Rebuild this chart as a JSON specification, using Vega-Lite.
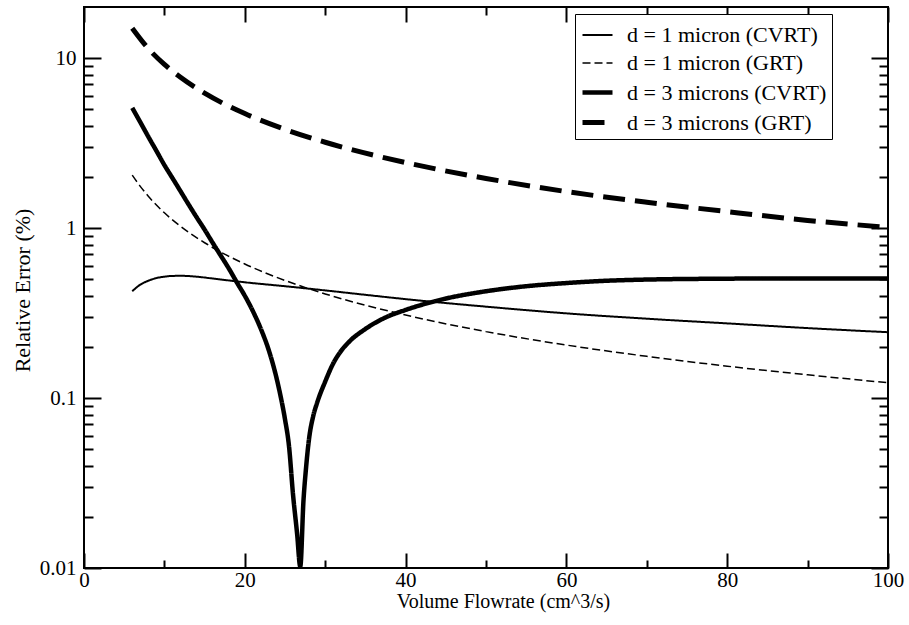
{
  "$schema": "https://vega.github.io/schema/vega-lite/v6.json",
  "width": 804,
  "height": 561,
  "autosize": {"type": "none"},
  "padding": {"left": 84, "top": 7, "right": 21, "bottom": 57},
  "config": {
    "font": "Liberation Serif",
    "view": {"stroke": "black", "strokeWidth": 2},
    "axis": {"grid": false, "domain": false, "tickColor": "black", "tickWidth": 2, "labelColor": "black", "titleColor": "black", "labelFont": "Liberation Serif", "titleFont": "Liberation Serif", "titleFontWeight": "normal"},
    "legend": {"labelFont": "Liberation Serif"}
  },
  "data": {"values": [
    {"x": 6, "y": 15, "s": "d = 3 microns (GRT)"},
    {"x": 8, "y": 11.38, "s": "d = 3 microns (GRT)"},
    {"x": 10, "y": 9.19, "s": "d = 3 microns (GRT)"},
    {"x": 12, "y": 7.71, "s": "d = 3 microns (GRT)"},
    {"x": 15, "y": 6.22, "s": "d = 3 microns (GRT)"},
    {"x": 20, "y": 4.72, "s": "d = 3 microns (GRT)"},
    {"x": 25, "y": 3.81, "s": "d = 3 microns (GRT)"},
    {"x": 30, "y": 3.2, "s": "d = 3 microns (GRT)"},
    {"x": 40, "y": 2.43, "s": "d = 3 microns (GRT)"},
    {"x": 50, "y": 1.96, "s": "d = 3 microns (GRT)"},
    {"x": 60, "y": 1.64, "s": "d = 3 microns (GRT)"},
    {"x": 70, "y": 1.42, "s": "d = 3 microns (GRT)"},
    {"x": 80, "y": 1.25, "s": "d = 3 microns (GRT)"},
    {"x": 90, "y": 1.11, "s": "d = 3 microns (GRT)"},
    {"x": 100, "y": 1.01, "s": "d = 3 microns (GRT)"},

    {"x": 6, "y": 2.05, "s": "d = 1 micron (GRT)"},
    {"x": 7, "y": 1.76, "s": "d = 1 micron (GRT)"},
    {"x": 8, "y": 1.54, "s": "d = 1 micron (GRT)"},
    {"x": 10, "y": 1.23, "s": "d = 1 micron (GRT)"},
    {"x": 12, "y": 1.025, "s": "d = 1 micron (GRT)"},
    {"x": 15, "y": 0.82, "s": "d = 1 micron (GRT)"},
    {"x": 20, "y": 0.615, "s": "d = 1 micron (GRT)"},
    {"x": 25, "y": 0.492, "s": "d = 1 micron (GRT)"},
    {"x": 30, "y": 0.41, "s": "d = 1 micron (GRT)"},
    {"x": 40, "y": 0.308, "s": "d = 1 micron (GRT)"},
    {"x": 50, "y": 0.246, "s": "d = 1 micron (GRT)"},
    {"x": 60, "y": 0.205, "s": "d = 1 micron (GRT)"},
    {"x": 70, "y": 0.176, "s": "d = 1 micron (GRT)"},
    {"x": 80, "y": 0.154, "s": "d = 1 micron (GRT)"},
    {"x": 90, "y": 0.137, "s": "d = 1 micron (GRT)"},
    {"x": 100, "y": 0.123, "s": "d = 1 micron (GRT)"},

    {"x": 6, "y": 0.425, "s": "d = 1 micron (CVRT)"},
    {"x": 7, "y": 0.465, "s": "d = 1 micron (CVRT)"},
    {"x": 8, "y": 0.49, "s": "d = 1 micron (CVRT)"},
    {"x": 9, "y": 0.508, "s": "d = 1 micron (CVRT)"},
    {"x": 10, "y": 0.518, "s": "d = 1 micron (CVRT)"},
    {"x": 11, "y": 0.523, "s": "d = 1 micron (CVRT)"},
    {"x": 12, "y": 0.524, "s": "d = 1 micron (CVRT)"},
    {"x": 14, "y": 0.518, "s": "d = 1 micron (CVRT)"},
    {"x": 16, "y": 0.505, "s": "d = 1 micron (CVRT)"},
    {"x": 20, "y": 0.48, "s": "d = 1 micron (CVRT)"},
    {"x": 25, "y": 0.455, "s": "d = 1 micron (CVRT)"},
    {"x": 30, "y": 0.43, "s": "d = 1 micron (CVRT)"},
    {"x": 35, "y": 0.405, "s": "d = 1 micron (CVRT)"},
    {"x": 40, "y": 0.382, "s": "d = 1 micron (CVRT)"},
    {"x": 50, "y": 0.345, "s": "d = 1 micron (CVRT)"},
    {"x": 60, "y": 0.315, "s": "d = 1 micron (CVRT)"},
    {"x": 70, "y": 0.293, "s": "d = 1 micron (CVRT)"},
    {"x": 80, "y": 0.275, "s": "d = 1 micron (CVRT)"},
    {"x": 90, "y": 0.258, "s": "d = 1 micron (CVRT)"},
    {"x": 100, "y": 0.244, "s": "d = 1 micron (CVRT)"},

    {"x": 6, "y": 5.1, "s": "d = 3 microns (CVRT)"},
    {"x": 7, "y": 4.2, "s": "d = 3 microns (CVRT)"},
    {"x": 8, "y": 3.45, "s": "d = 3 microns (CVRT)"},
    {"x": 9, "y": 2.85, "s": "d = 3 microns (CVRT)"},
    {"x": 10, "y": 2.35, "s": "d = 3 microns (CVRT)"},
    {"x": 11, "y": 1.97, "s": "d = 3 microns (CVRT)"},
    {"x": 12, "y": 1.65, "s": "d = 3 microns (CVRT)"},
    {"x": 13, "y": 1.38, "s": "d = 3 microns (CVRT)"},
    {"x": 14, "y": 1.16, "s": "d = 3 microns (CVRT)"},
    {"x": 15, "y": 0.98, "s": "d = 3 microns (CVRT)"},
    {"x": 16, "y": 0.82, "s": "d = 3 microns (CVRT)"},
    {"x": 17, "y": 0.69, "s": "d = 3 microns (CVRT)"},
    {"x": 18, "y": 0.58, "s": "d = 3 microns (CVRT)"},
    {"x": 19, "y": 0.48, "s": "d = 3 microns (CVRT)"},
    {"x": 20, "y": 0.4, "s": "d = 3 microns (CVRT)"},
    {"x": 21, "y": 0.325, "s": "d = 3 microns (CVRT)"},
    {"x": 22, "y": 0.255, "s": "d = 3 microns (CVRT)"},
    {"x": 23, "y": 0.19, "s": "d = 3 microns (CVRT)"},
    {"x": 24, "y": 0.128, "s": "d = 3 microns (CVRT)"},
    {"x": 24.5, "y": 0.1, "s": "d = 3 microns (CVRT)"},
    {"x": 25, "y": 0.075, "s": "d = 3 microns (CVRT)"},
    {"x": 25.5, "y": 0.052, "s": "d = 3 microns (CVRT)"},
    {"x": 26, "y": 0.027, "s": "d = 3 microns (CVRT)"},
    {"x": 26.5, "y": 0.016, "s": "d = 3 microns (CVRT)"},
    {"x": 26.9, "y": 0.0102, "s": "d = 3 microns (CVRT)"},
    {"x": 27.3, "y": 0.025, "s": "d = 3 microns (CVRT)"},
    {"x": 27.6, "y": 0.038, "s": "d = 3 microns (CVRT)"},
    {"x": 28, "y": 0.058, "s": "d = 3 microns (CVRT)"},
    {"x": 28.5, "y": 0.078, "s": "d = 3 microns (CVRT)"},
    {"x": 29, "y": 0.094, "s": "d = 3 microns (CVRT)"},
    {"x": 30, "y": 0.125, "s": "d = 3 microns (CVRT)"},
    {"x": 31, "y": 0.16, "s": "d = 3 microns (CVRT)"},
    {"x": 32, "y": 0.19, "s": "d = 3 microns (CVRT)"},
    {"x": 33, "y": 0.215, "s": "d = 3 microns (CVRT)"},
    {"x": 35, "y": 0.255, "s": "d = 3 microns (CVRT)"},
    {"x": 37.5, "y": 0.298, "s": "d = 3 microns (CVRT)"},
    {"x": 40, "y": 0.33, "s": "d = 3 microns (CVRT)"},
    {"x": 45, "y": 0.385, "s": "d = 3 microns (CVRT)"},
    {"x": 50, "y": 0.425, "s": "d = 3 microns (CVRT)"},
    {"x": 55, "y": 0.455, "s": "d = 3 microns (CVRT)"},
    {"x": 60, "y": 0.475, "s": "d = 3 microns (CVRT)"},
    {"x": 65, "y": 0.49, "s": "d = 3 microns (CVRT)"},
    {"x": 70, "y": 0.498, "s": "d = 3 microns (CVRT)"},
    {"x": 80, "y": 0.504, "s": "d = 3 microns (CVRT)"},
    {"x": 90, "y": 0.506, "s": "d = 3 microns (CVRT)"},
    {"x": 100, "y": 0.506, "s": "d = 3 microns (CVRT)"}
  ]},
  "resolve": {"axis": {"x": "independent", "y": "independent"}},
  "layer": [
    {
      "mark": {"type": "line", "color": "black", "interpolate": "monotone", "clip": true},
      "encoding": {
        "x": {"field": "x", "type": "quantitative",
          "scale": {"domain": [0, 100], "nice": false, "zero": false},
          "axis": {"orient": "bottom", "title": "Volume Flowrate (cm^3/s)",
            "values": [0, 10, 20, 30, 40, 50, 60, 70, 80, 90, 100],
            "labelExpr": "datum.value % 20 === 0 ? datum.label : ''",
            "tickSize": {"condition": {"test": "datum.value % 20 === 0", "value": -15}, "value": -8},
            "labelFontSize": 21, "labelPadding": 16, "labelFlush": false,
            "titleFontSize": 20, "titleX": 419, "titleY": 39, "titleBaseline": "alphabetic", "titleAlign": "center"}},
        "y": {"field": "y", "type": "quantitative",
          "scale": {"type": "log", "domain": [0.01, 20], "nice": false},
          "axis": {"orient": "left", "title": "Relative Error (%)",
            "values": [0.01, 0.02, 0.03, 0.04, 0.05, 0.06, 0.07, 0.08, 0.09, 0.1, 0.2, 0.3, 0.4, 0.5, 0.6, 0.7, 0.8, 0.9, 1, 2, 3, 4, 5, 6, 7, 8, 9, 10],
            "labelExpr": "abs(log(datum.value)/LN10 - round(log(datum.value)/LN10)) < 1e-6 ? format(datum.value, '~g') : ''",
            "tickSize": {"condition": {"test": "abs(log(datum.value)/LN10 - round(log(datum.value)/LN10)) < 1e-6", "value": -17}, "value": -9},
            "labelFontSize": 21, "labelPadding": 25, "labelFlush": false,
            "titleFontSize": 22, "titleX": -62, "titleY": 283, "titleBaseline": "middle", "titleAlign": "center", "titleAngle": -90}},
        "strokeDash": {"field": "s", "type": "nominal",
          "scale": {"domain": ["d = 1 micron (CVRT)", "d = 1 micron (GRT)", "d = 3 microns (CVRT)", "d = 3 microns (GRT)"],
                    "range": [[1, 0], [8, 4], [1, 0], [22, 10]]},
          "legend": {"title": null, "orient": "none", "legendX": 491, "legendY": 7,
            "strokeColor": "black", "fillColor": "white", "padding": 5,
            "labelFontSize": 22, "labelColor": "black", "labelLimit": 400, "symbolType": "stroke", "symbolSize": 900,
            "symbolStrokeColor": "black", "labelOffset": 12, "rowPadding": 1}},
        "strokeWidth": {"field": "s", "type": "nominal",
          "scale": {"type": "ordinal", "domain": ["d = 1 micron (CVRT)", "d = 1 micron (GRT)", "d = 3 microns (CVRT)", "d = 3 microns (GRT)"],
                    "range": [2, 1.5, 4.5, 5]},
          "legend": {"title": null, "orient": "none", "legendX": 491, "legendY": 7,
            "strokeColor": "black", "fillColor": "white", "padding": 5,
            "labelFontSize": 22, "labelColor": "black", "labelLimit": 400, "symbolType": "stroke", "symbolSize": 900,
            "symbolStrokeColor": "black", "labelOffset": 12, "rowPadding": 1}}
      }
    },
    {
      "mark": {"type": "point", "opacity": 0},
      "encoding": {
        "x": {"field": "x", "type": "quantitative",
          "axis": {"orient": "top", "title": null, "labels": false,
            "values": [0, 10, 20, 30, 40, 50, 60, 70, 80, 90, 100],
            "tickSize": {"condition": {"test": "datum.value % 20 === 0", "value": -15}, "value": -8}}},
        "y": {"field": "y", "type": "quantitative",
          "axis": {"orient": "right", "title": null, "labels": false,
            "values": [0.01, 0.02, 0.03, 0.04, 0.05, 0.06, 0.07, 0.08, 0.09, 0.1, 0.2, 0.3, 0.4, 0.5, 0.6, 0.7, 0.8, 0.9, 1, 2, 3, 4, 5, 6, 7, 8, 9, 10],
            "tickSize": {"condition": {"test": "abs(log(datum.value)/LN10 - round(log(datum.value)/LN10)) < 1e-6", "value": -17}, "value": -9}}}
      }
    }
  ]
}
